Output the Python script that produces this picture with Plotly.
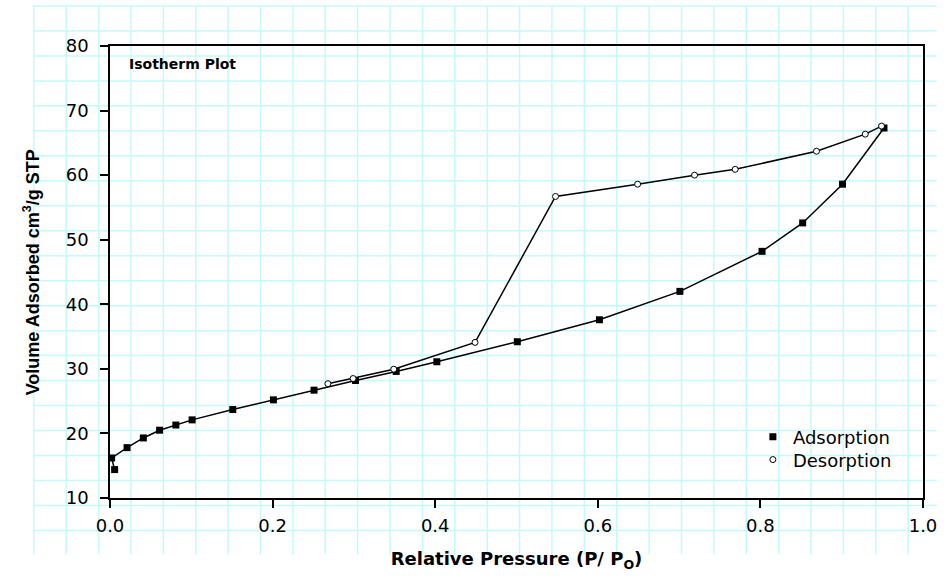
import plotly.graph_objects as go

# ---- data ----
ads_p = [0.0057, 0.002, 0.021, 0.041, 0.061, 0.081, 0.101, 0.151, 0.201, 0.251,
         0.302, 0.352, 0.402, 0.501, 0.602, 0.701, 0.802, 0.852, 0.901, 0.952]
ads_v = [14.4, 16.2, 17.8, 19.3, 20.5, 21.3, 22.1, 23.7, 25.2, 26.7,
         28.2, 29.6, 31.1, 34.2, 37.6, 42.0, 48.2, 52.6, 58.6, 67.3]
des_p = [0.949, 0.929, 0.869, 0.769, 0.719, 0.649, 0.548, 0.449, 0.349, 0.299, 0.268]
des_v = [67.6, 66.35, 63.7, 60.9, 60.0, 58.6, 56.7, 34.1, 29.95, 28.5, 27.7]

x_ticks = [0.0, 0.2, 0.4, 0.6, 0.8, 1.0]
x_tick_labels = ["0.0", "0.2", "0.4", "0.6", "0.8", "1.0"]
y_ticks = [10, 20, 30, 40, 50, 60, 70, 80]

# ---- layout geometry ----
W, H = 949, 578
L, R, T, B = 110, 17, 46, 77
PW, PH = W - L - R, H - T - B


def px_x(p):
    return (p - L) / PW


def px_y(p):
    return (H - B - p) / PH


# graph-paper background grid
GRID_COLOR = "rgb(198,250,250)"
shapes = []
for k in range(28):
    gx = 33 + 32.74 * k
    shapes.append(dict(type="line", xref="paper", yref="paper", layer="below",
                       x0=px_x(gx), x1=px_x(gx), y0=px_y(5.7), y1=px_y(558),
                       line=dict(color=GRID_COLOR, width=1.5)))
for k in range(22):
    gy = 5.7 + 25.14 * k
    shapes.append(dict(type="line", xref="paper", yref="paper", layer="below",
                       x0=px_x(32), x1=px_x(946), y0=px_y(gy), y1=px_y(gy),
                       line=dict(color=GRID_COLOR, width=1.5)))

ads_marker = dict(symbol="square", size=7, color="black")
des_marker = dict(symbol="circle", size=6, color="white",
                  line=dict(color="black", width=1))

fig = go.Figure()
fig.add_trace(go.Scatter(x=ads_p, y=ads_v, mode="lines", showlegend=False,
                         line=dict(color="black", width=1.5), hoverinfo="skip"))
fig.add_trace(go.Scatter(x=ads_p, y=ads_v, mode="markers", name="Adsorption",
                         marker=ads_marker, cliponaxis=False, legend="legend"))
fig.add_trace(go.Scatter(x=des_p, y=des_v, mode="lines", showlegend=False,
                         line=dict(color="black", width=1.5), hoverinfo="skip"))
fig.add_trace(go.Scatter(x=des_p, y=des_v, mode="markers", name="Desorption",
                         marker=des_marker, cliponaxis=False, legend="legend2"))

tick_font = dict(family="DejaVu Sans", size=18, color="black")
legend_font = dict(family="DejaVu Sans", size=18, color="black")

fig.update_layout(
    width=W, height=H, autosize=False,
    margin=dict(l=L, r=R, t=T, b=B, pad=0),
    paper_bgcolor="white", plot_bgcolor="rgba(0,0,0,0)",
    shapes=shapes,
    showlegend=True,
    legend=dict(x=px_x(760), y=px_y(421), xanchor="left", yanchor="top",
                bgcolor="rgba(0,0,0,0)", borderwidth=0, font=legend_font),
    legend2=dict(x=px_x(760), y=px_y(444), xanchor="left", yanchor="top",
                 bgcolor="rgba(0,0,0,0)", borderwidth=0, font=legend_font),
    xaxis=dict(range=[0, 1.0], tickvals=x_ticks, ticktext=x_tick_labels,
               showgrid=False, zeroline=False,
               showline=True, linecolor="black", linewidth=1.5, mirror=True,
               ticks="outside", ticklen=8, tickwidth=1.5, tickcolor="black",
               tickfont=tick_font, ticklabelstandoff=3,
               title=dict(text="<b>Relative Pressure (P/ P<sub>O</sub>)</b>",
                          font=dict(family="DejaVu Sans", size=18, color="black"),
                          standoff=17)),
    yaxis=dict(range=[10, 80], tickvals=y_ticks,
               showgrid=False, zeroline=False,
               showline=True, linecolor="black", linewidth=1.5, mirror=True,
               ticks="outside", ticklen=8, tickwidth=1.5, tickcolor="black",
               tickfont=tick_font, ticklabelstandoff=8),
    annotations=[
        dict(text="<b>Isotherm Plot</b>", xref="paper", yref="paper",
             x=px_x(127), y=px_y(64), xanchor="left", yanchor="middle",
             showarrow=False,
             font=dict(family="DejaVu Sans", size=14, color="black")),
        dict(text="<b>Volume Adsorbed cm<sup>3</sup>/g STP</b>", xref="paper", yref="paper",
             x=px_x(31), y=px_y(274), xanchor="center", yanchor="middle",
             textangle=-90, showarrow=False,
             font=dict(family="Liberation Sans", size=18, color="black")),
    ],
)

fig.write_html("out.html", config={"displayModeBar": False},
               post_script="document.body.style.margin='0';")
